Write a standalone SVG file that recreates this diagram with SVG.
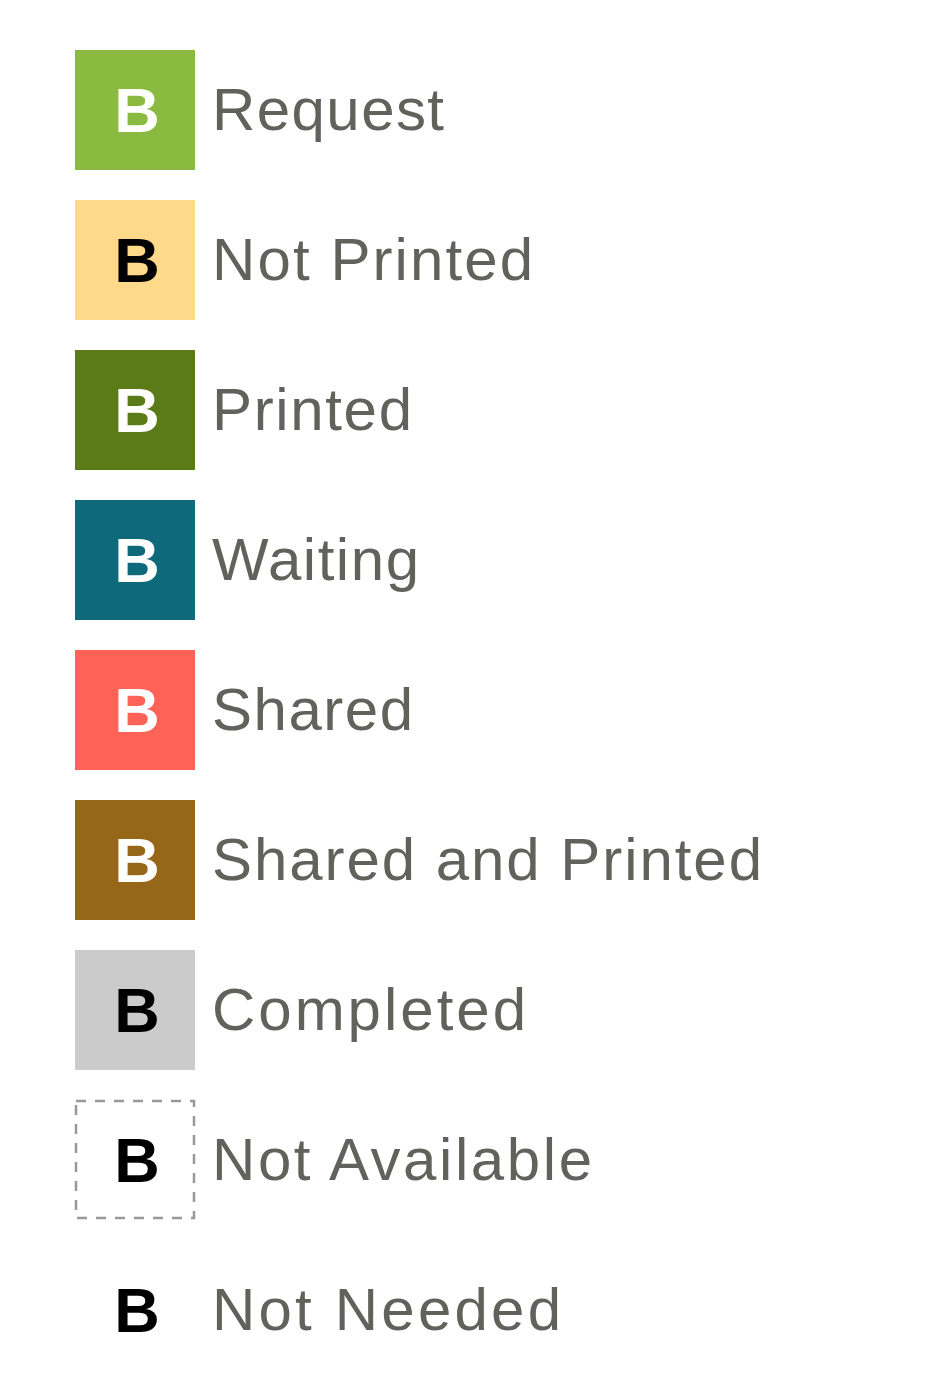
<svg xmlns="http://www.w3.org/2000/svg" width="928" height="1389" viewBox="0 0 928 1389">
<style>
.lbl{font-family:"Liberation Sans",Arial,sans-serif;font-size:60px;fill:#62625d}
.b{font-family:"Liberation Sans",Arial,sans-serif;font-size:63px;font-weight:bold;text-anchor:middle}
.w{fill:#ffffff}.k{fill:#000000}
</style>
<rect width="928" height="1389" fill="#ffffff"/>
<g id="request"><rect x="75" y="50" width="120" height="120" fill="#8aba3f"/><text class="b w" x="137" y="132">B</text><text class="lbl" x="212" y="130" textLength="232" lengthAdjust="spacing">Request</text></g>
<g id="not-printed"><rect x="75" y="200" width="120" height="120" fill="#fed98a"/><text class="b k" x="137" y="282">B</text><text class="lbl" x="212" y="280" textLength="321" lengthAdjust="spacing">Not Printed</text></g>
<g id="printed"><rect x="75" y="350" width="120" height="120" fill="#5a7b17"/><text class="b w" x="137" y="432">B</text><text class="lbl" x="212" y="430" textLength="200" lengthAdjust="spacing">Printed</text></g>
<g id="waiting"><rect x="75" y="500" width="120" height="120" fill="#0e6a7b"/><text class="b w" x="137" y="582">B</text><text class="lbl" x="212" y="580" textLength="207" lengthAdjust="spacing">Waiting</text></g>
<g id="shared"><rect x="75" y="650" width="120" height="120" fill="#ff6357"/><text class="b w" x="137" y="732">B</text><text class="lbl" x="212" y="730" textLength="201" lengthAdjust="spacing">Shared</text></g>
<g id="shared-printed"><rect x="75" y="800" width="120" height="120" fill="#966719"/><text class="b w" x="137" y="882">B</text><text class="lbl" x="212" y="880" textLength="550" lengthAdjust="spacing">Shared and Printed</text></g>
<g id="completed"><rect x="75" y="950" width="120" height="120" fill="#cbcbcb"/><text class="b k" x="137" y="1032">B</text><text class="lbl" x="212" y="1030" textLength="314" lengthAdjust="spacing">Completed</text></g>
<g id="not-available"><rect x="76" y="1101" width="118" height="117" fill="none" stroke="#999999" stroke-width="2.5" stroke-dasharray="10 9"/><text class="b k" x="137" y="1182">B</text><text class="lbl" x="212" y="1180" textLength="380" lengthAdjust="spacing">Not Available</text></g>
<g id="not-needed"><text class="b k" x="137" y="1332">B</text><text class="lbl" x="212" y="1330" textLength="349" lengthAdjust="spacing">Not Needed</text></g>
<g id="connectors"/>
</svg>
